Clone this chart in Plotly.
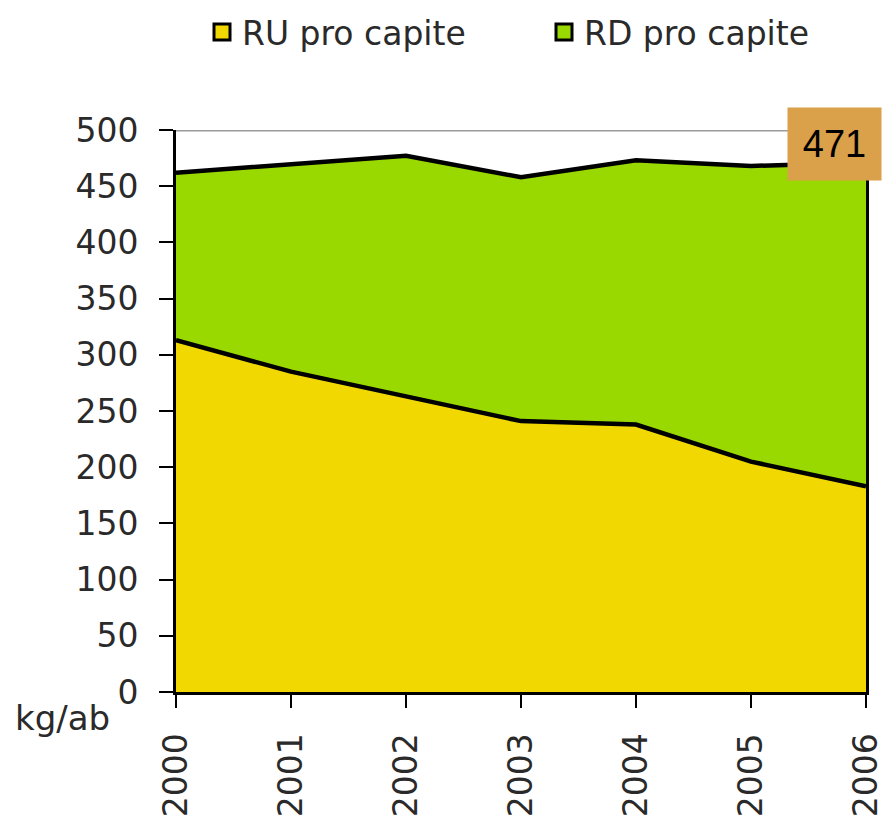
import plotly.graph_objects as go

years = [2000, 2001, 2002, 2003, 2004, 2005, 2006]
ru_pro_capite = [313, 285, 263, 241, 238, 205, 183]
rd_pro_capite = [149, 184, 214, 217, 235, 263, 288]
y_ticks = [0, 50, 100, 150, 200, 250, 300, 350, 400, 450, 500]

YELLOW = "#F0D800"
GREEN = "#99D900"
ORANGE = "#DBA04A"
TXT = "#2a2a2a"
FONT = "DejaVu Sans"

W, H = 882, 823

fig = go.Figure()
fig.add_trace(go.Scatter(
    x=years, y=ru_pro_capite, stackgroup="one", mode="lines",
    line=dict(color="black", width=4.5), fillcolor=YELLOW,
    name="RU pro capite", showlegend=False, hoverinfo="x+y"))
fig.add_trace(go.Scatter(
    x=years, y=rd_pro_capite, stackgroup="one", mode="lines",
    line=dict(color="black", width=4.5), fillcolor=GREEN,
    name="RD pro capite", showlegend=False, hoverinfo="x+y"))

# legend entries (square swatches)
for name, col in [("RU pro capite", YELLOW), ("RD pro capite", GREEN)]:
    fig.add_trace(go.Scatter(
        x=[None], y=[None], mode="markers", name=name,
        marker=dict(symbol="square", size=16, color=col,
                    line=dict(color="black", width=3))))

total_last = ru_pro_capite[-1] + rd_pro_capite[-1]

fig.update_layout(
    width=W, height=H,
    margin=dict(l=176, r=16, t=130, b=131, autoexpand=False),
    paper_bgcolor="white", plot_bgcolor="white",
    font=dict(family=FONT, color=TXT, size=33),
    showlegend=True,
    legend=dict(orientation="h", xref="container", yref="container",
                x=202 / W, xanchor="left", y=1 - 32 / H, yanchor="middle",
                font=dict(family=FONT, size=33, color=TXT),
                entrywidth=297, itemsizing="trace", traceorder="normal",
                bgcolor="rgba(0,0,0,0)"),
    xaxis=dict(range=[years[0], years[-1]], tickvals=years,
               ticktext=[str(y) for y in years], tickangle=-90,
               ticks="outside", ticklen=13, tickwidth=2, tickcolor="black",
               showline=True, linecolor="black", linewidth=3,
               showgrid=False, zeroline=False, automargin=False,
               tickfont=dict(family=FONT, size=33, color=TXT),
               ticklabelstandoff=12, ticklabeloverflow="allow"),
    yaxis=dict(range=[0, 500], tickvals=y_ticks,
               ticks="outside", ticklen=14, tickwidth=2, tickcolor="black",
               showline=True, mirror=True, linecolor="black", linewidth=3,
               showgrid=False, zeroline=False, automargin=False,
               tickfont=dict(family=FONT, size=33, color=TXT),
               ticklabelstandoff=14),
    shapes=[dict(type="line", xref="paper", yref="y", x0=0, x1=1,
                 y0=y_ticks[-1], y1=y_ticks[-1],
                 line=dict(color="#9a9a9a", width=3), layer="above")],
    annotations=[
        dict(text=str(total_last), xref="x", yref="y", x=years[-1], y=y_ticks[-1],
             xanchor="right", yanchor="top", xshift=16, yshift=23,
             showarrow=False, bgcolor=ORANGE, width=91, height=70,
             font=dict(family="Liberation Sans", size=38, color="black")),
        dict(text="kg/ab", xref="paper", yref="paper", x=0, y=0,
             xanchor="right", yanchor="middle", xshift=-64, yshift=-26,
             showarrow=False,
             font=dict(family=FONT, size=34, color=TXT)),
    ],
)

fig.write_html("out.html",
               config={"displayModeBar": False},
               post_script="document.body.style.margin='0';"
                           "document.body.style.overflow='hidden';")
